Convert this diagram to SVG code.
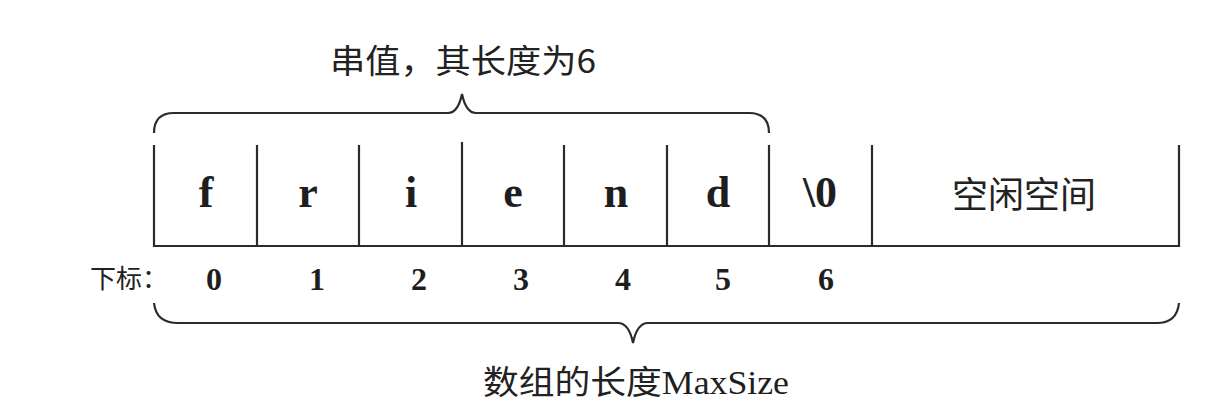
<svg xmlns="http://www.w3.org/2000/svg" width="1211" height="414" viewBox="0 0 1211 414">
<style>
.ln{stroke:#2b2b2b;stroke-width:2.2;fill:none}
.cjk{font-family:"Noto Sans CJK SC","Liberation Sans",sans-serif;fill:#222}
.ser{font-family:"Liberation Serif","Noto Sans CJK SC",serif;font-weight:bold;fill:#1e1e1e}
.reg{font-family:"Liberation Serif","Noto Sans CJK SC",serif;font-weight:normal;fill:#1e1e1e}
</style>
<rect width="1211" height="414" fill="#fff"/>
<g id="connectors">
<path id="top-brace" class="ln" d="M154,133 Q154,113 174,113 L448,113 Q458,113 462,94 Q466,113 476,113 L749,113 Q769,113 769,133"/>
<path id="bottom-brace" class="ln" d="M154,303 Q156,323 178,323 L618,323 Q629,323 633,343 Q637,323 648,323 L1157,323 Q1177,323 1179,303"/>
</g>
<g id="array">
<path class="ln" d="M154,145 V246 H1179 V145"/>
<path class="ln" d="M257,145 V246 M359,145 V246 M462,142 V246 M564,145 V246 M667,145 V246 M769,145 V246 M872,145 V246"/>
</g>
<g id="cells" class="ser" font-size="44" text-anchor="middle">
<text id="c0" x="206" y="207">f</text>
<text id="c1" x="308" y="207">r</text>
<text id="c2" x="411" y="207">i</text>
<text id="c3" x="513" y="207">e</text>
<text id="c4" x="616" y="207">n</text>
<text id="c5" x="718" y="207">d</text>
<text id="c6" x="820" y="207">\0</text>
</g>
<g id="free">
<text class="cjk" x="1024" y="208" font-size="36" text-anchor="middle">空闲空间</text>
</g>
<g id="indices" class="ser" font-size="32" text-anchor="middle">
<text x="214" y="290">0</text>
<text x="317" y="290">1</text>
<text x="419" y="290">2</text>
<text x="521" y="290">3</text>
<text x="623" y="290">4</text>
<text x="723" y="290">5</text>
<text x="826" y="290">6</text>
</g>
<g id="index-label">
<text class="cjk" x="90" y="288" font-size="26">下标：</text>
</g>
<g id="title">
<text class="cjk" x="330" y="73" font-size="33" textLength="266" lengthAdjust="spacingAndGlyphs">串值，其长度为6</text>
</g>
<g id="caption">
<text x="483" y="394" font-size="33" textLength="306" lengthAdjust="spacingAndGlyphs"><tspan class="cjk">数组的长度</tspan><tspan class="reg">MaxSize</tspan></text>
</g>
</svg>
